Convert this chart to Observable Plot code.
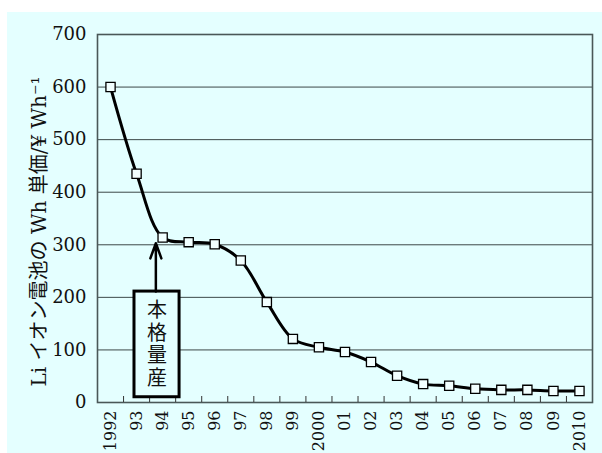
<!DOCTYPE html>
<html>
<head>
<meta charset="utf-8">
<script src="https://cdn.jsdelivr.net/npm/d3@7"></script>
<script src="https://cdn.jsdelivr.net/npm/@observablehq/plot@0.6"></script>
<style>
  html, body { margin: 0; padding: 0; background: #ffffff; }
  #chart { padding: 12px 0 0 7px; }
  #chart svg { display: block; }
  #chart svg text { font-family: "DejaVu Serif", serif !important; }
  #chart svg .ylab text { font-family: "DejaVu Serif", "Noto Sans CJK JP" !important; }
  #chart svg .note text { font-family: "Noto Sans CJK JP", sans-serif !important; writing-mode: vertical-rl; letter-spacing: 2.5px; }
</style>
</head>
<body>
<div id="chart"></div>
<script>
// Data
const years = [1992, 1993, 1994, 1995, 1996, 1997, 1998, 1999, 2000, 2001, 2002, 2003, 2004, 2005, 2006, 2007, 2008, 2009, 2010];
const prices = [600, 435, 314, 305, 301, 270, 191, 121, 105, 96, 77, 51, 35, 32, 26, 24, 24, 22, 22];
const yearLabels = ["1992", "93", "94", "95", "96", "97", "98", "99", "2000", "01", "02", "03", "04", "05", "06", "07", "08", "09", "2010"];
const yTicks = [0, 100, 200, 300, 400, 500, 600, 700];
const yLabel = "Li イオン電池の Wh 単価/¥ Wh⁻¹";
const noteText = "本格量産";
// annotation box (data units) and arrow target
const noteBox = {x1: 1992.92, x2: 1994.65, y1: 10, y2: 211};
const noteArrow = {x: 1993.74, y1: 211, y2: 303};

const data = years.map((y, i) => ({year: y, price: prices[i]}));
const boundaries = years.slice(1).map(y => y - 0.5);
const bg = "#e4ffff";

const chart = Plot.plot({
  width: 595,
  height: 441,
  marginLeft: 90,
  marginRight: 10,
  marginTop: 22,
  marginBottom: 51,
  style: {background: bg, fontSize: "18px", color: "#111", overflow: "visible"},
  x: {domain: [years[0] - 0.5, years[years.length - 1] + 0.5]},
  y: {domain: [0, 700]},
  marks: [
    Plot.gridY(yTicks, {stroke: "#3c4848", strokeOpacity: 1, strokeWidth: 1}),
    Plot.frame({stroke: "#4a5858", strokeWidth: 1.6}),
    Plot.ruleX(boundaries, {y1: 0, y2: 0, insetTop: -6, stroke: "#333"}),
    Plot.axisY(yTicks, {tickSize: 0, tickPadding: 11, fontSize: 18, label: null}),
    Plot.axisX(years, {tickSize: 0, tickPadding: 8, tickRotate: -90, fontSize: 16, tickFormat: (d, i) => yearLabels[i], label: null}),
    Plot.text([yLabel], {className: "ylab", frameAnchor: "left", textAnchor: "middle", text: d => d, rotate: -90, dx: -58, dy: 13, fontSize: 20, fill: "#111"}),
    Plot.rect([noteBox], {x1: "x1", x2: "x2", y1: "y1", y2: "y2", fill: bg, stroke: "#000", strokeWidth: 3}),
    Plot.text([noteText], {className: "note", x: (noteBox.x1 + noteBox.x2) / 2, y: (noteBox.y1 + noteBox.y2) / 2, text: d => d, lineAnchor: "bottom", fontSize: 20, fill: "#111"}),
    Plot.arrow([noteArrow], {x1: "x", x2: "x", y1: "y1", y2: "y2", stroke: "#000", strokeWidth: 2.5, headLength: 10, headAngle: 40}),
    Plot.line(data, {x: "year", y: "price", curve: "catmull-rom", stroke: "#000", strokeWidth: 3}),
    Plot.dot(data, {x: "year", y: "price", symbol: "square", r: 5.2, fill: "#f2ffff", stroke: "#000", strokeWidth: 1.3})
  ]
});
document.getElementById("chart").append(chart);
</script>
</body>
</html>
